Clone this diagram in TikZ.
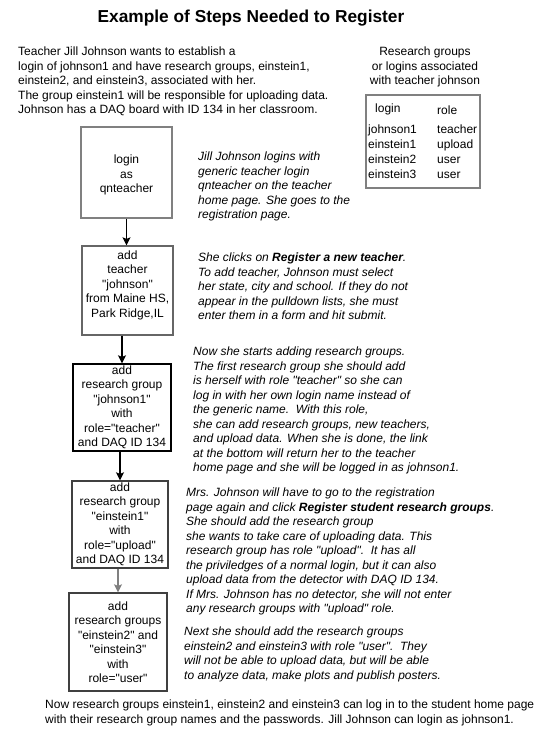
\documentclass[tikz,border=0pt]{standalone}
\usepackage{fontspec}
\newfontfamily\ars{Liberation Sans}
\usetikzlibrary{arrows.meta}
\begin{document}
\begin{tikzpicture}[x=1pt,y=-1pt,
  txt/.style={inner sep=0pt, anchor=north west, align=left, font=\ars\fontsize{12}{14.5}\selectfont},
  itx/.style={inner sep=0pt, anchor=north west, align=left, font=\ars\fontsize{12}{14.5}\selectfont\itshape},
  stepbox/.style={draw, line width=1.3pt, inner sep=0pt, align=center, font=\ars\fontsize{12}{14.5}\selectfont},
  arr/.style={line width=1.2pt, -{Stealth[length=8pt,width=8pt,inset=1.5pt]}}]
\useasboundingbox (0,0) rectangle (549,738);

\node[font=\ars\fontsize{17.3}{20}\selectfont\bfseries, inner sep=0pt] (title) at (251,18) {Example of Steps Needed to Register};

\node[txt] (intro) at (18,47) {Teacher Jill Johnson wants to establish a\\
login of johnson1 and have research groups, einstein1,\\
einstein2, and einstein3, associated with her.\\
The group einstein1 will be responsible for uploading data.\\
Johnson has a DAQ board with ID 134 in her classroom.};

\node[txt, anchor=north, align=center] (thead) at (425,47) {Research groups\\or logins associated\\with teacher johnson};

\node[draw=black!50, line width=1.3pt, minimum width=114pt, minimum height=93pt, inner sep=0pt] (tbl) at (423,141.5) {};
\node[txt] (tlogin) at (375,104) {login};
\node[txt] (trole) at (437,106) {role};
\node[txt, font=\ars\fontsize{12}{14.8}\selectfont] (tcol1) at (368,125) {johnson1\\einstein1\\einstein2\\einstein3};
\node[txt, font=\ars\fontsize{12}{14.8}\selectfont] (tcol2) at (437,125) {teacher\\upload\\user\\user};

\node[stepbox, draw=black!50, minimum width=91pt, minimum height=91pt] (b1) at (126.5,172.5) {};
\node[stepbox, draw=none] (b1t) at (126.5,175) {login\\as\\qnteacher};
\node[stepbox, draw=black!60, minimum width=91pt, minimum height=89pt] (b2) at (127.5,290.5) {};
\node[stepbox, draw=none] (b2t) at (127.5,285) {add\\teacher\\"johnson"\\from Maine HS,\\Park Ridge,IL};
\node[stepbox, draw=black, minimum width=98pt, minimum height=87pt] (b3) at (122,407.5) {add\\research group\\"johnson1"\\with\\role="teacher"\\and DAQ ID 134};
\node[stepbox, draw=black!75, minimum width=96pt, minimum height=87pt] (b4) at (120,524.5) {add\\research group\\"einstein1"\\with\\role="upload"\\and DAQ ID 134};
\node[stepbox, draw=black!75, minimum width=98pt, minimum height=98pt] (b5) at (118,642) {add\\research groups\\"einstein2" and\\"einstein3"\\with\\role="user"};

\draw[arr] (b1.south) -- (b1.south |- b2.north);
\draw[arr] (b2.south -| b3.north) -- (b3.north);
\draw[arr] (b3.south -| b4.north) -- (b4.north);
\draw[arr, black!50] (b4.south -| b5.north) -- (b5.north);

\node[itx] (d1) at (198,152) {Jill Johnson logins with\\
generic teacher login\\
qnteacher on the teacher\\
home page. She goes to the\\
registration page.};

\node[itx] (d2) at (198,253) {She clicks on \textbf{Register a new teacher}.\\
To add teacher, Johnson must select\\
her state, city and school. If they do not\\
appear in the pulldown lists, she must\\
enter them in a form and hit submit.};

\node[itx] (d3) at (193,347) {Now she starts adding research groups.\\
The first research group she should add\\
is herself with role "teacher" so she can\\
log in with her own login name instead of\\
the generic name.\ \ With this role,\\
she can add research groups, new teachers,\\
and upload data. When she is done, the link\\
at the bottom will return her to the teacher\\
home page and she will be logged in as johnson1.};

\node[itx] (d4) at (186,488) {Mrs. Johnson will have to go to the registration\\
page again and click \textbf{Register student research groups}.\\
She should add the research group\\
she wants to take care of uploading data. This\\
research group has role "upload".\ \ It has all\\
the priviledges of a normal login, but it can also\\
upload data from the detector with DAQ ID 134.\\
If Mrs. Johnson has no detector, she will not enter\\
any research groups with "upload" role.};

\node[itx] (d5) at (184,627) {Next she should add the research groups\\
einstein2 and einstein3 with role "user".\ \ They\\
will not be able to upload data, but will be able\\
to analyze data, make plots and publish posters.};

\node[txt] (final) at (45,700) {Now research groups einstein1, einstein2 and einstein3 can log in to the student home page\\
with their research group names and the passwords. Jill Johnson can login as johnson1.};
\end{tikzpicture}
\end{document}
